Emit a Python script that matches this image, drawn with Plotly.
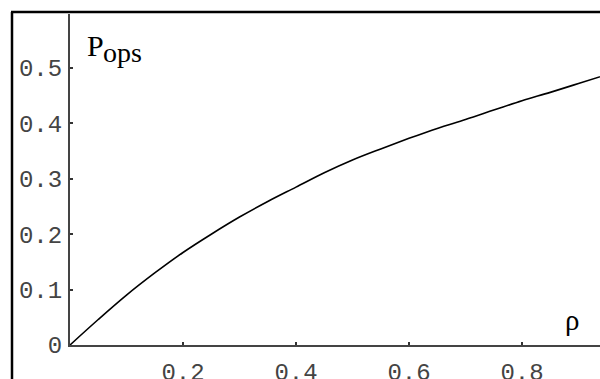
import plotly.graph_objects as go

# Data
rho = [0.0, 0.05, 0.10, 0.15, 0.20, 0.25, 0.30, 0.35, 0.40, 0.45, 0.50,
       0.55, 0.60, 0.65, 0.70, 0.75, 0.80, 0.85, 0.90, 0.95]
p_ops = [0.0, 0.046, 0.090, 0.130, 0.167, 0.200, 0.231, 0.259, 0.285, 0.311, 0.334,
         0.354, 0.373, 0.391, 0.407, 0.424, 0.441, 0.456, 0.472, 0.488]
x_ticks = [0.2, 0.4, 0.6, 0.8]
y_ticks = [0, 0.1, 0.2, 0.3, 0.4, 0.5]

W, H = 600, 379
L, R, T, B = 70, 600, 14, 345  # plot area in pixels


def px(x):
    return (x - L) / (R - L)


def py(y):
    return (B - y) / (B - T)


fig = go.Figure()
fig.add_trace(go.Scatter(x=rho, y=p_ops, mode="lines",
                         line=dict(color="black", width=1.6, shape="spline"),
                         hoverinfo="skip", showlegend=False))

tickfont = dict(family="Liberation Mono", size=24, color="#444444")
fig.update_layout(
    width=W, height=H,
    margin=dict(l=L, r=W - R, t=T, b=H - B, pad=0),
    paper_bgcolor="white", plot_bgcolor="white",
    xaxis=dict(range=[0, (R - L) / 565.0], tickvals=x_ticks, ticktext=[f"{v:.1f}" for v in x_ticks],
               ticks="inside", ticklen=3, tickwidth=2, tickcolor="#333333",
               showline=True, linecolor="#444444", linewidth=2, mirror=False, automargin=False,
               showgrid=False, zeroline=False, tickfont=tickfont, ticklabelstandoff=4),
    yaxis=dict(range=[0, (B - T) / 554.0], tickvals=y_ticks,
               ticktext=["0" if v == 0 else f"{v:.1f}" for v in y_ticks],
               ticks="inside", ticklen=3, tickwidth=2, tickcolor="#333333",
               showline=True, linecolor="#444444", linewidth=2, mirror=False, automargin=False,
               showgrid=False, zeroline=False, tickfont=tickfont, ticklabelstandoff=1),
    shapes=[
        dict(type="line", xref="paper", yref="paper", x0=px(12), x1=px(12), y0=py(12), y1=py(400),
             line=dict(color="black", width=2.5)),
        dict(type="line", xref="paper", yref="paper", x0=px(11), x1=px(620), y0=py(12), y1=py(12),
             line=dict(color="black", width=2.5)),
    ],
    annotations=[
        dict(text="P", xref="paper", yref="paper", x=px(85), y=py(46), xanchor="left", yanchor="middle",
             showarrow=False, font=dict(family="Liberation Serif", size=30, color="black")),
        dict(text="ops", xref="paper", yref="paper", x=px(101), y=py(52), xanchor="left", yanchor="middle",
             showarrow=False, font=dict(family="Liberation Serif", size=28, color="black")),
        dict(text="ρ", xref="paper", yref="paper", x=px(563), y=py(320), xanchor="left", yanchor="middle",
             showarrow=False, font=dict(family="Liberation Serif", size=29, color="black")),
    ],
)

fig.write_html("out.html")
